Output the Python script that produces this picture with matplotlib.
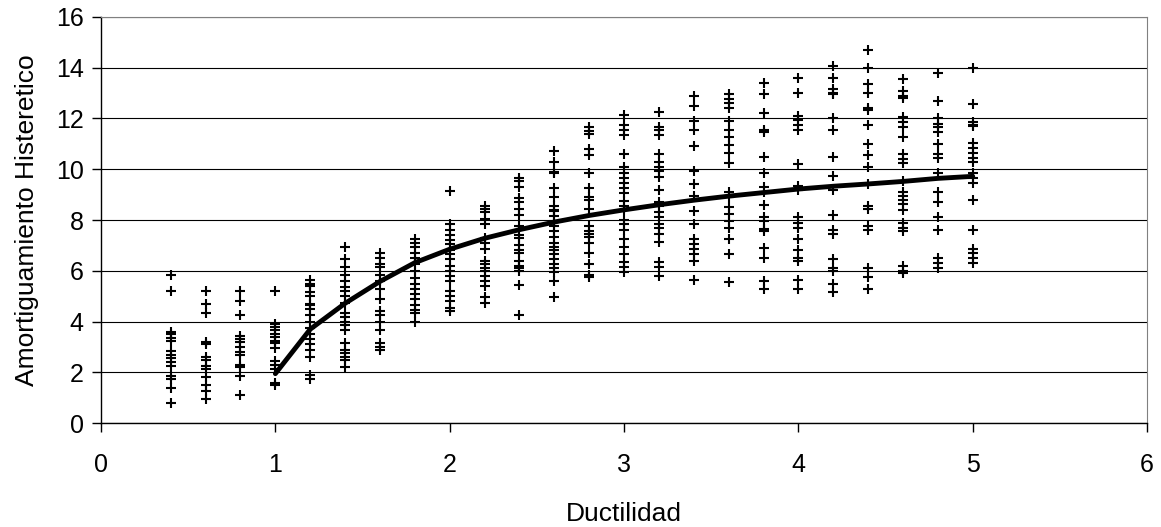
import matplotlib
matplotlib.use('Agg')
import matplotlib.pyplot as plt

plt.rcParams['font.family'] = ['Liberation Sans', 'DejaVu Sans']

# === Datos dispersos (columnas por ductilidad) ===
d04 = [5.85, 5.2, 3.6, 3.5, 3.35, 3.25, 2.85, 2.7, 2.55, 2.4, 2.25, 1.85, 1.75, 1.4, 0.8]
d06 = [5.2, 4.7, 4.35, 3.2, 3.1, 2.6, 2.5, 2.25, 2.15, 1.8, 1.5, 1.25, 0.95]
d08 = [5.2, 4.8, 4.25, 3.45, 3.3, 3.2, 3.0, 2.8, 2.7, 2.3, 2.2, 1.85, 1.1]
d10 = [5.2, 3.9, 3.8, 3.65, 3.5, 3.4, 3.25, 3.15, 2.95, 2.45, 2.3, 2.15, 1.6, 1.5]
d12 = [5.65, 5.5, 5.4, 5.15, 5.0, 4.7, 4.65, 4.5, 4.25, 4.0, 3.75, 3.5, 3.3, 3.1, 2.9, 2.6, 1.9, 1.75]
d14 = [6.95, 6.45, 6.15, 5.85, 5.6, 5.35, 5.2, 5.0, 4.75, 4.35, 4.2, 4.0, 3.85, 3.65, 3.15, 2.9, 2.75, 2.6, 2.5, 2.2]
d16 = [6.7, 6.5, 6.25, 6.15, 5.85, 5.6, 5.3, 4.9, 4.4, 4.25, 4.0, 3.65, 3.15, 3.0, 2.9]
d18 = [7.25, 7.1, 6.95, 6.7, 6.5, 6.25, 6.0, 5.7, 5.5, 5.3, 5.1, 4.9, 4.65, 4.45, 4.35, 4.0]
d20 = [9.15, 7.85, 7.6, 7.4, 7.2, 7.05, 6.8, 6.65, 6.45, 6.2, 6.0, 5.8, 5.6, 5.2, 5.0, 4.8, 4.55, 4.4]
d22 = [8.55, 8.45, 8.3, 8.05, 7.85, 7.3, 7.1, 6.85, 6.4, 6.25, 6.1, 6.0, 5.8, 5.6, 5.4, 4.95, 4.75]
d24 = [9.65, 9.55, 9.3, 8.85, 8.7, 8.45, 8.2, 7.75, 7.4, 7.3, 7.0, 6.8, 6.7, 6.4, 6.2, 6.1, 6.0, 5.45, 4.25]
d26 = [10.7, 10.3, 9.9, 9.85, 9.25, 8.9, 8.55, 8.4, 8.35, 8.15, 7.95, 7.75, 7.55, 7.35, 7.1, 6.95,
       6.8, 6.65, 6.45, 6.25, 6.1, 5.95, 5.6, 4.95]
d28 = [11.65, 11.5, 11.4, 10.8, 10.55, 9.85, 9.25, 8.9, 8.8, 8.45, 7.75, 7.55, 7.45, 7.35, 7.1, 6.7, 6.25, 5.85, 5.75]
d30 = [12.15, 11.75, 11.55, 11.35, 10.6, 10.1, 9.85, 9.65, 9.45, 9.25, 9.05, 8.75, 8.55, 8.4, 8.0, 7.85,
       7.6, 7.25, 6.95, 6.65, 6.35, 6.15, 5.95]
d32 = [12.25, 11.65, 11.55, 11.35, 10.6, 10.3, 10.1, 9.95, 9.7, 9.2, 8.7, 8.55, 8.3, 8.1, 7.85, 7.7, 7.45,
       7.15, 6.35, 6.15, 5.8]
d34 = [12.9, 12.5, 11.9, 11.55, 10.9, 9.95, 9.4, 8.95, 8.35, 7.85, 7.25, 7.05, 6.85, 6.65, 6.4, 5.65]
d36 = [12.95, 12.75, 12.6, 12.4, 11.9, 11.55, 11.25, 10.95, 10.65, 10.25, 9.1, 8.9, 8.5, 8.25, 7.95, 7.7,
       7.25, 6.65, 5.55]
d38 = [13.4, 12.95, 12.2, 11.55, 11.45, 10.5, 9.85, 9.3, 9.1, 8.6, 8.1, 7.95, 7.65, 7.55, 6.9, 6.5, 5.6, 5.3]
d40 = [13.6, 13.0, 12.1, 11.95, 11.75, 11.55, 10.2, 9.35, 9.2, 8.1, 7.9, 7.7, 7.25, 6.8, 6.5, 6.4, 5.65, 5.3]
d42 = [14.05, 13.6, 13.15, 13.0, 12.95, 12.0, 11.55, 10.5, 9.75, 9.2, 8.2, 7.6, 7.45, 6.45, 6.1, 6.0, 5.5, 5.15]
d44 = [14.7, 14.0, 13.35, 13.0, 12.4, 12.35, 11.75, 11.0, 10.55, 10.1, 9.4, 8.55, 8.45, 7.75, 7.6, 6.1, 5.75, 5.3]
d46 = [13.55, 13.1, 12.9, 12.8, 12.05, 11.85, 11.65, 11.25, 10.6, 10.4, 10.25, 9.55, 9.1, 8.95, 8.8, 8.65,
       8.4, 7.9, 7.7, 7.55, 6.2, 6.0, 5.9]
d48 = [13.8, 12.7, 12.0, 11.8, 11.65, 11.45, 11.0, 10.6, 10.45, 9.85, 9.1, 8.7, 8.1, 7.6, 6.5, 6.3, 6.1]
d50 = [14.0, 12.55, 11.85, 11.75, 11.7, 11.05, 10.85, 10.65, 10.45, 10.3, 9.85, 9.65, 9.45, 8.8, 7.6,
       6.85, 6.7, 6.5, 6.3]

duct = [0.4, 0.6, 0.8, 1.0, 1.2, 1.4, 1.6, 1.8, 2.0, 2.2, 2.4, 2.6, 2.8, 3.0, 3.2, 3.4, 3.6, 3.8,
        4.0, 4.2, 4.4, 4.6, 4.8, 5.0]
columnas = [d04, d06, d08, d10, d12, d14, d16, d18, d20, d22, d24, d26, d28, d30, d32, d34, d36, d38,
            d40, d42, d44, d46, d48, d50]

# === Curva ajustada ===
curva_x = [1.0, 1.2, 1.4, 1.6, 1.8, 2.0, 2.2, 2.4, 2.6, 2.8, 3.0, 3.2, 3.4, 3.6, 3.8, 4.0, 4.2, 4.4, 4.6, 4.8, 5.0]
curva_y = [1.95, 3.7, 4.72, 5.58, 6.32, 6.85, 7.28, 7.62, 7.92, 8.18, 8.4, 8.6, 8.78, 8.94, 9.08, 9.22,
           9.33, 9.42, 9.52, 9.64, 9.72]

fig = plt.figure(figsize=(11.61, 5.27), dpi=100)
ax = fig.add_axes([0.087, 0.197, 0.901, 0.771])

for x, ys in zip(duct, columnas):
    ax.plot([x] * len(ys), ys, linestyle='none', marker='+', color='black',
            markersize=7, markeredgewidth=1.5)

ax.plot(curva_x, curva_y, color='black', linewidth=3.5, solid_capstyle='round')

ax.set_xlim(0, 6)
ax.set_ylim(0, 16)
ax.set_xticks(range(0, 7))
ax.set_yticks(range(0, 17, 2))
ax.yaxis.grid(True, color='black', linewidth=0.8)
ax.set_axisbelow(True)

for s in ['top', 'right']:
    ax.spines[s].set_color('#808080')
for s in ['left', 'bottom']:
    ax.spines[s].set_color('black')
    ax.spines[s].set_linewidth(1.0)

ax.tick_params(axis='both', direction='out', length=6.5, width=1, labelsize=18)
ax.tick_params(axis='x', pad=15)
ax.tick_params(axis='y', pad=6)
ax.set_xlabel('Ductilidad', fontsize=19, labelpad=18)
ax.set_ylabel('Amortiguamiento Histeretico', fontsize=19, labelpad=12)

plt.savefig('out.png', dpi=100)
